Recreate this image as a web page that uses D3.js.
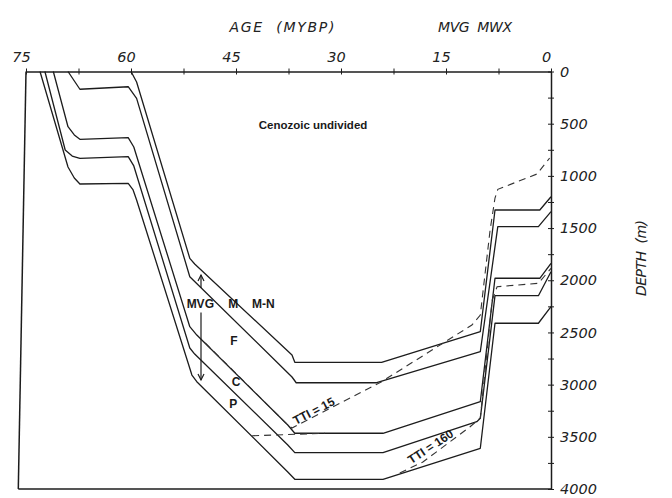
<!DOCTYPE html>
<html><head><meta charset="utf-8">
<script src="https://cdn.jsdelivr.net/npm/d3@7"></script>
<style>
body{margin:0;background:#fff;}
svg{display:block;}
</style></head><body>
<svg id="c" width="672" height="498"></svg>
<script>
// ---- data (age in Ma, depth in m) ----
const ageTicks = [75,67.5,60,52.5,45,37.5,30,22.5,15,7.5,0];
const ageLabels = [75,60,45,30,15,0];
const depthTicks = d3.range(0,4001,250);
const depthLabels = [0,500,1000,1500,2000,2500,3000,3500,4000];

const horizon1 = [[73.0,0],[69.0,915],[68.1,1020],[67.3,1078],[60.4,1071],[59.7,1135],[59.2,1231],[51.3,2908],[50.6,2972],[37.6,3837],[36.6,3907],[24.0,3907],[10.1,3610],[8.0,2412],[1.8,2412],[0,2253]];
const horizon2 = [[72.3,0],[69.4,752],[68.4,810],[67.3,832],[60.4,816],[59.6,905],[51.6,2649],[50.9,2707],[37.6,3578],[36.6,3652],[24.0,3652],[10.6,3355],[10.1,3323],[8.0,2148],[1.8,2148],[0,1918]];
const horizon3 = [[71.1,0],[69.0,529],[68.1,608],[67.3,650],[60.4,634],[59.6,723],[51.6,2445],[50.6,2525],[37.6,3387],[36.6,3466],[24.0,3466],[10.1,3164],[8.0,1981],[1.6,1981],[0,1838]];
const horizon4 = [[69.0,0],[67.3,170],[60.4,146],[59.2,257],[51.6,1966],[37.0,2927],[36.4,2982],[24.9,2982],[10.1,2685],[7.6,1487],[1.8,1487],[0,1343]];
const horizon5 = [[60.0,0],[59.2,100],[51.6,1790],[50.9,1844],[37.0,2716],[36.6,2786],[24.2,2786],[10.1,2493],[8.0,1327],[1.6,1327],[0,1200]];

const tti15 = [[49.4,2600],[37.6,3387],[37.0,3416],[24.2,2972],[11.3,2429],[10.1,2333],[8.7,1519],[8.0,1212],[7.6,1129],[2.0,982],[0.2,830]];
const tti160a = [[42.7,3490],[32.3,3466]];
const tti160b = [[21.6,3847],[18.3,3741],[11.6,3406],[10.1,3320],[8.4,2190],[7.7,2062],[1.8,2029],[0,1886]];

const frameLeft = [[75,0],[76.1,4000]];
const frameBottom = [[76.1,4000],[0,4000]];

const arrowAge = 50.0;
const arrowDepths = [1950, 2075, 2310, 2956];

const annotations = [
  {text:"Cenozoic undivided", age:34.0, depth:515},
  {text:"MVG", age:50.1, depth:2220},
  {text:"M", age:45.4, depth:2220},
  {text:"M-N", age:41.1, depth:2220},
  {text:"F", age:45.3, depth:2575},
  {text:"C", age:45.0, depth:2970},
  {text:"P", age:45.4, depth:3180}
];

// ---- drawing ----
const svg = d3.select("#c");
const x = d3.scaleLinear().domain([75,0]).range([26,551]);
const y = d3.scaleLinear().domain([0,4000]).range([71.5,489]);
const line = d3.line().x(d=>x(d[0])).y(d=>y(d[1]));
const ink = "#1c1c1c";

// frame
[frameLeft, frameBottom].forEach(f=>{
  svg.append("path").attr("d",line(f)).attr("fill","none").attr("stroke",ink).attr("stroke-width",1.5);
});

// horizons
[horizon1,horizon2,horizon3,horizon4,horizon5].forEach(h=>{
  svg.append("path").attr("d",line(h)).attr("fill","none").attr("stroke",ink)
     .attr("stroke-width",1.3).attr("stroke-linejoin","round");
});

// TTI isolines
[tti15,tti160a,tti160b].forEach(t=>{
  svg.append("path").attr("d",line(t)).attr("fill","none").attr("stroke","#333")
     .attr("stroke-width",1.1).attr("stroke-dasharray","7,5");
});

// top axis
const fontFam = "'DejaVu Sans', sans-serif";
const gTop = svg.append("g").attr("transform",`translate(0,${y(0)})`)
  .call(d3.axisTop(x).tickValues(ageTicks).tickSize(3).tickSizeOuter(0).tickPadding(7)
        .tickFormat(d=> ageLabels.includes(d) ? d3.format("d")(d) : ""));
gTop.attr("font-family",null).attr("font-size",null);
gTop.select(".domain").attr("stroke",ink).attr("stroke-width",1.5);
gTop.selectAll(".tick line").attr("y1",3).attr("stroke",ink);
gTop.selectAll(".tick text").attr("font-family",fontFam).attr("font-size",14.5)
  .attr("font-style","italic").attr("dx",-5).attr("fill","#222");

// right axis
const gRight = svg.append("g").attr("transform",`translate(${x(0)},0)`)
  .call(d3.axisRight(y).tickValues(depthTicks).tickSize(3).tickSizeOuter(0).tickPadding(6)
        .tickFormat(d=> depthLabels.includes(d) ? d3.format("d")(d) : ""));
gRight.attr("font-family",null).attr("font-size",null);
gRight.select(".domain").attr("stroke",ink).attr("stroke-width",1.5);
gRight.selectAll(".tick line").attr("x1",-3).attr("stroke",ink);
gRight.selectAll(".tick text").attr("font-family",fontFam).attr("font-size",14.5)
  .attr("font-style","italic").attr("fill","#222");

// axis titles
svg.append("text").attr("x",282).attr("y",32).attr("text-anchor","middle")
  .attr("font-family",fontFam).attr("font-size",14).attr("font-style","italic").attr("fill","#222")
  .attr("textLength",105).attr("lengthAdjust","spacing")
  .text("AGE\u00A0\u00A0(MYBP)");
svg.append("text").attr("x",475).attr("y",32).attr("text-anchor","middle")
  .attr("font-family",fontFam).attr("font-size",14).attr("font-style","italic").attr("fill","#222")
  .attr("textLength",74).attr("lengthAdjust","spacing")
  .text("MVG\u00A0\u00A0MWX");
svg.append("text").attr("transform","translate(646,258) rotate(-90)").attr("text-anchor","middle")
  .attr("font-family",fontFam).attr("font-size",14).attr("font-style","italic").attr("fill","#222")
  .attr("textLength",76).attr("lengthAdjust","spacing")
  .text("DEPTH\u00A0\u00A0(m)");

// annotations
annotations.forEach(a=>{
  svg.append("text").attr("x",x(a.age)).attr("y",y(a.depth)).attr("dy","0.36em")
    .attr("text-anchor","middle").attr("font-family","'Liberation Sans', Arial, sans-serif")
    .attr("font-size", a.text.length>5 ? 11.5 : 12).attr("font-weight","bold").attr("fill","#1a1a1a")
    .text(a.text);
});

// vertical double arrow
const av = d3.line().x(d=>x(arrowAge)+d[0]).y(d=>y(d[1])+d[2]);
svg.append("path").attr("d",line([[arrowAge,arrowDepths[0]],[arrowAge,arrowDepths[1]]]))
  .attr("stroke",ink).attr("stroke-width",1.2).attr("fill","none");
svg.append("path").attr("d",line([[arrowAge,arrowDepths[2]],[arrowAge,arrowDepths[3]]]))
  .attr("stroke",ink).attr("stroke-width",1.2).attr("fill","none");
svg.append("path").attr("d",av([[-3,arrowDepths[0],6],[0,arrowDepths[0],0],[3,arrowDepths[0],6]]))
  .attr("stroke",ink).attr("stroke-width",1.2).attr("fill","none");
svg.append("path").attr("d",av([[-3,arrowDepths[3],-6],[0,arrowDepths[3],0],[3,arrowDepths[3],-6]]))
  .attr("stroke",ink).attr("stroke-width",1.2).attr("fill","none");

// TTI labels along isolines
function pathLabel(txt, p0, p1, at, off){
  const x0=x(p0[0]), y0=y(p0[1]), x1=x(p1[0]), y1=y(p1[1]);
  const ang = Math.atan2(y1-y0, x1-x0)*180/Math.PI;
  const px = x0+(x1-x0)*at, py = y0+(y1-y0)*at;
  svg.append("text").attr("transform",`translate(${px},${py}) rotate(${ang})`)
    .attr("text-anchor","middle").attr("y",off)
    .attr("font-family","'Liberation Sans', Arial, sans-serif").attr("font-size",12)
    .attr("font-weight","bold").attr("fill","#1a1a1a").text(txt);
}
pathLabel("TTI = 15", tti15[2], tti15[3], 0.27, -1);
pathLabel("TTI = 160", tti160b[0], tti160b[2], 0.48, -1);
</script>
</body></html>
